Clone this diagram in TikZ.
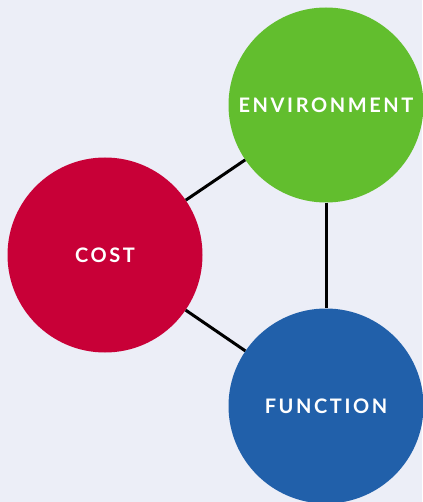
\documentclass[tikz,border=0pt]{standalone}
\usepackage{fontspec}
\setmainfont{Lato}
\newfontfamily\labelfont[LetterSpace=13]{Lato Bold}
\usepackage{xcolor}
\usepackage{tikz}
\usetikzlibrary{positioning}
\definecolor{bgcol}{HTML}{ECEEF7}
\definecolor{envgreen}{HTML}{62BE2E}
\definecolor{costred}{HTML}{C80037}
\definecolor{funcblue}{HTML}{2160AA}

\begin{document}
\begin{tikzpicture}[
					x = 1pt, y = -1pt,
					topic/.style = {circle, minimum size = 195pt, inner sep = 0pt,
						text = white, font = \labelfont\fontsize{20}{22}\selectfont},
					link/.style = {line width = 3pt, black}
					]

					\def\rw{422}
					\def\rh{502}

					\fill[bgcol] (0,0) rectangle (\rw,\rh);
					\useasboundingbox (0,0) rectangle (\rw,\rh);

					\node[topic, fill = envgreen] (env) at (326,105) {ENVIRONMENT};
					\node[topic, fill = costred] (cost) at (105,255) {COST};
					\node[topic, fill = funcblue] (func) at (326,406) {FUNCTION};

					\draw[link] (cost) -- (env);
					\draw[link] (cost) -- (func);
					\draw[link] (env) -- (func);

				\end{tikzpicture}
\end{document}
